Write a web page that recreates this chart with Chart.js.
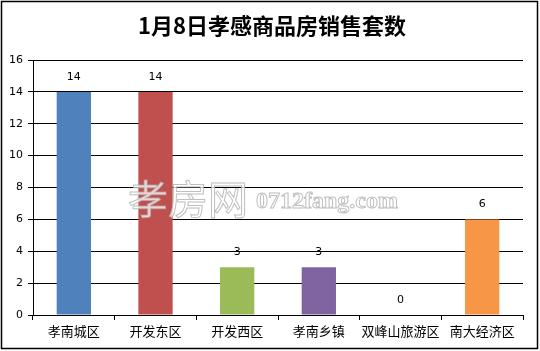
<!DOCTYPE html>
<html><head><meta charset="utf-8">
<script src="https://cdn.jsdelivr.net/npm/chart.js@4"></script>
<style>html,body{margin:0;padding:0;background:#fff}canvas{display:block}</style>
</head><body>
<canvas id="c" width="540" height="351"></canvas>
<script>
const titleText = '1月8日孝感商品房销售套数';
const categories = ['孝南城区','开发东区','开发西区','孝南乡镇','双峰山旅游区','南大经济区'];
const values = [14,14,3,3,0,6];
const barColors = ['#4F81BD','#C0504D','#9BBB59','#8064A2','#4BACC6','#F79646'];
const yTicks = {min:0,max:16,step:2};

const decor = {
  id:'decor',
  afterDatasetsDraw(chart){
    const ctx = chart.ctx;
    const meta = chart.getDatasetMeta(0);
    ctx.save();
    ctx.fillStyle = '#000';
    ctx.font = '11px "DejaVu Sans", sans-serif';
    ctx.textAlign = 'center';
    ctx.textBaseline = 'middle';
    meta.data.forEach((b,i)=>{ ctx.fillText(String(values[i]), b.x, b.y - 15); });
    ctx.restore();
  },
  afterDraw(chart){
    const ctx = chart.ctx;
    ctx.save();
    // title
    ctx.fillStyle = '#000';
    ctx.font = 'bold 22px "Noto Sans CJK SC", serif';
    ctx.textAlign = 'center';
    ctx.textBaseline = 'middle';
    ctx.fillText(titleText, 272, 26);
    // watermark
    ctx.globalAlpha = 0.75;
    ctx.lineWidth = 1;
    ctx.strokeStyle = '#aaa';
    ctx.fillStyle = '#fff';
    ctx.textAlign = 'left';
    ctx.textBaseline = 'alphabetic';
    ctx.font = '40px "Noto Sans CJK SC", sans-serif';
    ctx.fillText('孝房网', 128, 214);
    ctx.strokeText('孝房网', 128, 214);
    ctx.font = 'bold 24px "Liberation Serif", serif';
    ctx.fillText('0712fang.com', 256, 208);
    ctx.strokeText('0712fang.com', 256, 208);
    ctx.globalAlpha = 1;
    // border
    ctx.strokeStyle = '#000';
    ctx.lineWidth = 1.5;
    ctx.strokeRect(1.5,1.5,536,347);
    ctx.restore();
  }
};

new Chart(document.getElementById('c'), {
  type:'bar',
  data:{labels:categories, datasets:[{data:values, backgroundColor:barColors, borderWidth:0, categoryPercentage:1, barPercentage:0.42}]},
  options:{
    responsive:false, animation:false,
    layout:{padding:{top:60,right:17,bottom:0,left:0}},
    plugins:{legend:{display:false}, tooltip:{enabled:false}, title:{display:false}},
    scales:{
      y:{min:yTicks.min,max:yTicks.max,
        ticks:{stepSize:yTicks.step,color:'#000',font:{family:'"DejaVu Sans", sans-serif',size:11},padding:5},
        grid:{color:'#000',lineWidth:1,tickLength:5,drawTicks:true},
        border:{color:'#000',width:1},
        afterFit(s){s.width=33;}
      },
      x:{
        ticks:{color:'#000',font:{family:'"Noto Sans CJK SC", sans-serif',size:13},padding:3,maxRotation:0,autoSkip:false},
        grid:{display:true,drawOnChartArea:false,drawTicks:true,tickLength:5,color:'#000',offset:true},
        border:{color:'#000',width:1},
        afterFit(s){s.height=36;}
      }
    }
  },
  plugins:[decor]
});
</script>
</body></html>
